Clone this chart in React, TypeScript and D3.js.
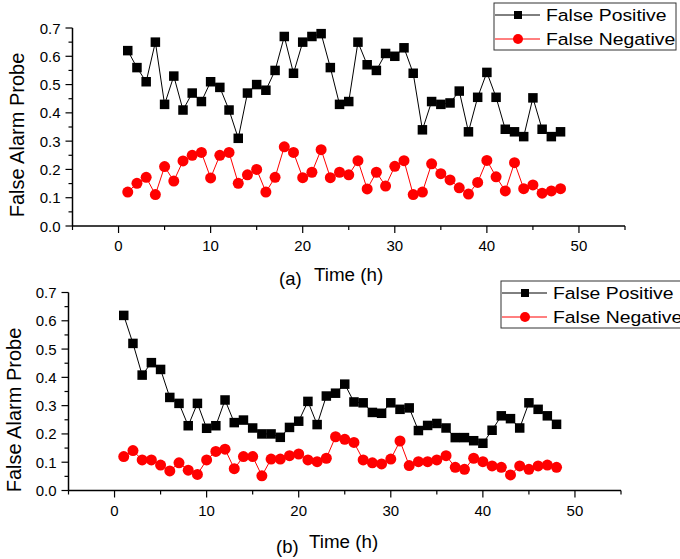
import React from "react";
import * as d3 from "d3";

const hours = d3.range(1, 49);

const fpA = [0.62,0.56,0.51,0.65,0.43,0.53,0.41,0.47,0.44,0.51,0.49,0.41,0.31,0.47,0.50,0.48,0.55,0.67,0.54,0.65,0.67,0.68,0.56,0.43,0.44,0.65,0.57,0.55,0.61,0.60,0.63,0.54,0.34,0.44,0.43,0.435,0.477,0.333,0.455,0.543,0.455,0.342,0.333,0.316,0.453,0.342,0.316,0.333];
const fnA = [0.12,0.151,0.172,0.111,0.21,0.159,0.23,0.25,0.26,0.17,0.25,0.26,0.151,0.181,0.20,0.12,0.172,0.28,0.26,0.171,0.19,0.27,0.171,0.19,0.181,0.231,0.131,0.19,0.141,0.211,0.231,0.111,0.12,0.22,0.185,0.163,0.135,0.113,0.154,0.232,0.174,0.124,0.224,0.132,0.145,0.116,0.124,0.132];
const fpB = [0.619,0.52,0.408,0.452,0.428,0.329,0.308,0.229,0.308,0.22,0.229,0.32,0.24,0.249,0.221,0.20,0.20,0.188,0.223,0.245,0.315,0.233,0.334,0.344,0.376,0.313,0.31,0.276,0.273,0.31,0.287,0.292,0.212,0.23,0.237,0.221,0.187,0.187,0.176,0.167,0.213,0.264,0.254,0.221,0.31,0.287,0.264,0.234];
const fnB = [0.12,0.141,0.108,0.108,0.09,0.069,0.098,0.072,0.057,0.108,0.138,0.146,0.077,0.12,0.12,0.052,0.111,0.111,0.123,0.129,0.108,0.102,0.114,0.19,0.181,0.17,0.108,0.098,0.094,0.111,0.175,0.088,0.102,0.102,0.108,0.123,0.082,0.075,0.114,0.102,0.087,0.082,0.055,0.087,0.075,0.087,0.09,0.082];

const xTicks = [0, 10, 20, 30, 40, 50];
const xMinor = [-5, 5, 15, 25, 35, 45, 55];
const yTicks = [0, 0.1, 0.2, 0.3, 0.4, 0.5, 0.6, 0.7];
const yMinor = [0.05, 0.15, 0.25, 0.35, 0.45, 0.55, 0.65];
const seriesNames = ["False Positive", "False Negative"];
const yTitle = "False Alarm Probe";
const xTitle = "Time (h)";

const FONT = "'Liberation Sans', Arial, Helvetica, sans-serif";

type PanelProps = {
  fp: number[];
  fn: number[];
  x0: number; x1: number; y0: number; y1: number;
  tag: string;
  tagX: number; tagY: number; titleX: number; titleY: number;
  yTitleX: number; yTitleY: number;
  legX: number; legY: number; legW: number;
};

function Panel(p: PanelProps) {
  const x = d3.scaleLinear().domain([-5, 55]).range([p.x0, p.x1]);
  const y = d3.scaleLinear().domain([0, 0.7]).range([p.y0, p.y1]);
  const line = d3.line<number>().x((_, i) => x(hours[i])).y((d) => y(d));
  const ax = x(-5);
  const sq = 9.5;
  const lsq = 8;
  return (
    <g>
      <path d={line(p.fp) || ""} fill="none" stroke="#000" strokeWidth={1} />
      <path d={line(p.fn) || ""} fill="none" stroke="#ff0000" strokeWidth={1} />
      {p.fp.map((v, i) => (
        <rect key={"s" + i} x={x(hours[i]) - sq / 2} y={y(v) - sq / 2} width={sq} height={sq} fill="#000" />
      ))}
      {p.fn.map((v, i) => (
        <circle key={"c" + i} cx={x(hours[i])} cy={y(v)} r={5.5} fill="#ff0000" />
      ))}
      {/* axes */}
      <line x1={ax} x2={ax} y1={p.y0} y2={p.y1} stroke="#000" strokeWidth={1.5} />
      <line x1={ax} x2={x(55)} y1={p.y0} y2={p.y0} stroke="#000" strokeWidth={1.5} />
      {xTicks.map((t) => (
        <g key={"xt" + t}>
          <line x1={x(t)} x2={x(t)} y1={p.y0} y2={p.y0 + 7} stroke="#000" strokeWidth={1.2} />
          <text x={x(t)} y={p.y0 + 25} fontSize={15} textAnchor="middle" fontFamily={FONT}>{t}</text>
        </g>
      ))}
      {xMinor.map((t) => (
        <line key={"xm" + t} x1={x(t)} x2={x(t)} y1={p.y0} y2={p.y0 + 4} stroke="#000" strokeWidth={1.2} />
      ))}
      {yTicks.map((t) => (
        <g key={"yt" + t}>
          <line x1={ax - 7} x2={ax} y1={y(t)} y2={y(t)} stroke="#000" strokeWidth={1.2} />
          <text x={ax - 12} y={y(t) + 5.5} fontSize={15} textAnchor="end" fontFamily={FONT}>{t.toFixed(1)}</text>
        </g>
      ))}
      {yMinor.map((t) => (
        <line key={"ym" + t} x1={ax - 4} x2={ax} y1={y(t)} y2={y(t)} stroke="#000" strokeWidth={1.2} />
      ))}
      <text transform={`translate(${p.yTitleX},${p.yTitleY}) rotate(-90)`} textAnchor="middle" fontSize={20} fontFamily={FONT}>{yTitle}</text>
      <text x={p.tagX} y={p.tagY} fontSize={18.5} fontFamily={FONT}>{p.tag}</text>
      <text x={p.titleX} y={p.titleY} fontSize={18.8} fontFamily={FONT}>{xTitle}</text>
      {/* legend */}
      <rect x={p.legX} y={p.legY} width={p.legW} height={47} fill="#fff" stroke="#333" strokeWidth={1} />
      {seriesNames.map((name, i) => {
        const cy = p.legY + 12 + i * 24;
        const lx = p.legX + 1;
        const mx = lx + 23;
        return (
          <g key={name}>
            <line x1={lx} x2={lx + 45} y1={cy} y2={cy} stroke={i === 0 ? "#000" : "#ff0000"} strokeWidth={1} />
            {i === 0 ? (
              <rect x={mx - lsq / 2} y={cy - lsq / 2} width={lsq} height={lsq} fill="#000" />
            ) : (
              <circle cx={mx} cy={cy} r={5} fill="#ff0000" />
            )}
            <text transform={`translate(${lx + 51},${cy + 6}) scale(1.14,1)`} fontSize={17} fontFamily={FONT}>{name}</text>
          </g>
        );
      })}
    </g>
  );
}

export default function App() {
  return (
    <svg width={680} height={559} style={{ position: "absolute", left: 0, top: 0, background: "#fff" }}>
      <rect width={680} height={559} fill="#fff" />
      <Panel fp={fpA} fn={fnA} x0={72.5} x1={625} y0={226} y1={28}
        tag="(a)" tagX={279} tagY={285} titleX={314} titleY={281} yTitleX={24} yTitleY={135}
        legX={494} legY={3} legW={182} />
      <Panel fp={fpB} fn={fnB} x0={68.5} x1={621} y0={490.5} y1={292.5}
        tag="(b)" tagX={276} tagY={553} titleX={309} titleY={548} yTitleX={21} yTitleY={410}
        legX={501} legY={281} legW={190} />
    </svg>
  );
}
